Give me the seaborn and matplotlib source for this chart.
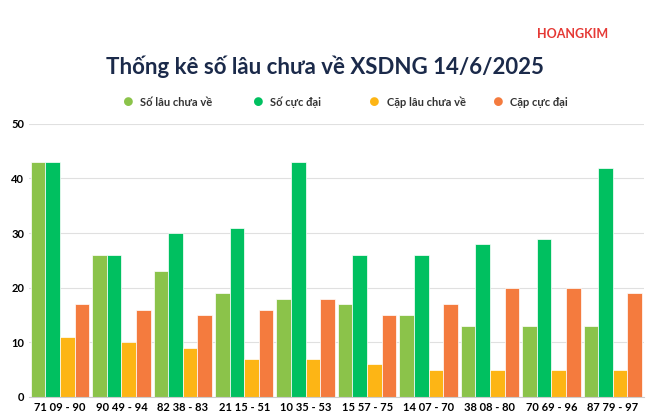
import pandas as pd
import matplotlib.pyplot as plt
import seaborn as sns

labels = ['71 09 - 90', '90 49 - 94', '82 38 - 83', '21 15 - 51', '10 35 - 53',
          '15 57 - 75', '14 07 - 70', '38 08 - 80', '70 69 - 96', '87 79 - 97']
so_lau = [43, 26, 23, 19, 18, 17, 15, 13, 13, 13]
so_cuc_dai = [43, 26, 30, 31, 43, 26, 26, 28, 29, 42]
cap_lau = [11, 10, 9, 7, 7, 6, 5, 5, 5, 5]
cap_cuc_dai = [17, 16, 15, 16, 18, 15, 17, 20, 20, 19]
series = ['Số lâu chưa về', 'Số cực đại', 'Cặp lâu chưa về', 'Cặp cực đại']
colors = ['#8BC34A', '#00C060', '#FDB515', '#F47B3E']

df = pd.DataFrame({'label': labels, series[0]: so_lau, series[1]: so_cuc_dai,
                   series[2]: cap_lau, series[3]: cap_cuc_dai})
df = df.melt(id_vars='label', var_name='series', value_name='value')

plt.rcParams['font.family'] = 'Lato'
fig = plt.figure(figsize=(6.5, 4.2), dpi=100)
ax = fig.add_axes([0.045, 0.055, 0.945, 0.65])
sns.barplot(data=df, x='label', y='value', hue='series', hue_order=series,
            palette=colors, saturation=1, width=0.95, ax=ax, legend=False)
for p in ax.patches:
    p.set_edgecolor('white')
    p.set_linewidth(0.5)
ax.set_ylim(0, 50)
ax.set_yticks(range(0, 51, 10))
ax.set_xlim(-0.5, 9.5)
ax.grid(axis='y', color='#e0e0e0', linewidth=0.8)
ax.set_axisbelow(True)
for s in ['top', 'right', 'left']:
    ax.spines[s].set_visible(False)
ax.spines['bottom'].set_color('#cccccc')
ax.tick_params(length=0, labelsize=8)
for t in ax.get_xticklabels() + ax.get_yticklabels():
    t.set_fontweight('bold')
ax.set_xlabel('')
ax.set_ylabel('')

fig.text(0.5, 0.84, 'Thống kê số lâu chưa về XSDNG 14/6/2025', ha='center', va='center',
         fontsize=16, fontweight='bold', color='#1b2a4a')
xs = [0.205, 0.405, 0.585, 0.775]
for x, s, c in zip(xs, series, colors):
    fig.text(x, 0.756, '●', color=c, fontsize=13, ha='right', va='center')
    fig.text(x + 0.01, 0.756, s, fontsize=8, fontweight='bold', color='#333333', va='center')
fig.text(0.935, 0.92, 'HOANGKIM', ha='right', va='center', fontsize=9,
         fontweight='bold', color='#e53935')
fig.savefig('out.png', dpi=100)
